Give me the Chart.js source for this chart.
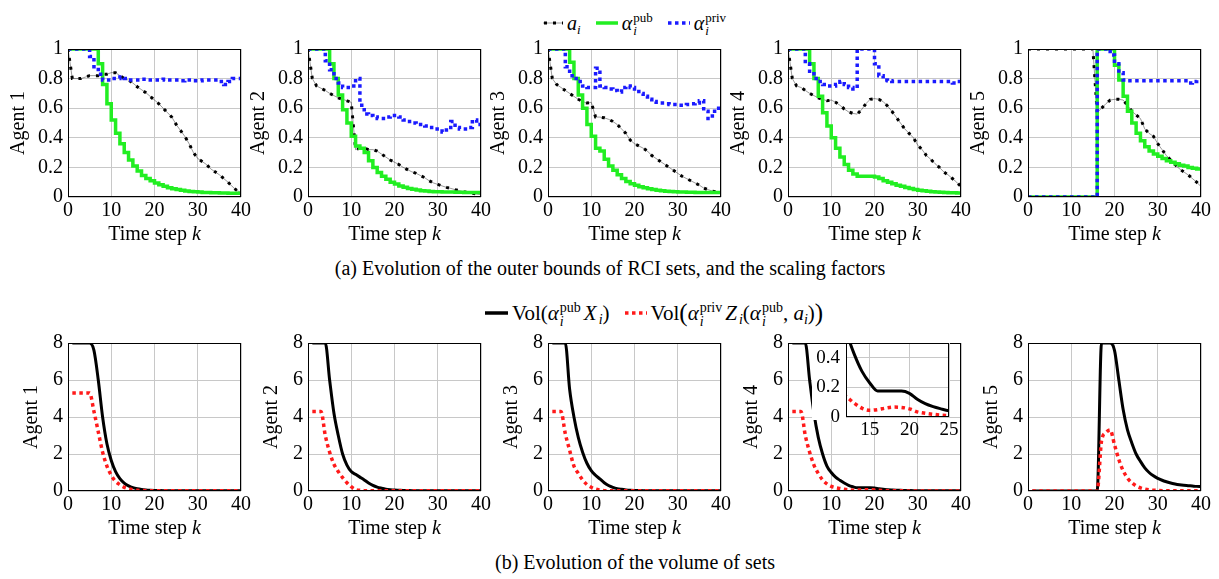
<!DOCTYPE html>
<html>
<head>
<meta charset="utf-8">
<script src="https://cdn.jsdelivr.net/npm/chart.js@4.4.0/dist/chart.umd.min.js"></script>
<style>
  body { margin:0; background:#fff; width:1219px; height:579px; position:relative; overflow:hidden;
         font-family:"Liberation Serif", "Times New Roman", serif; color:#000; }
  canvas { position:absolute; }
  .legend { position:absolute; font-size:20px; white-space:nowrap; display:flex; align-items:center; height:30px; }
  .lab { margin-left:4px; margin-right:15px; }
  .ss { display:inline-flex; flex-direction:column; font-size:13px; line-height:13px; vertical-align:8px; margin-left:1px; margin-bottom:-13px; }
  sub { font-size:13px; vertical-align:-4px; line-height:0; }
  .wide { font-size:21px; }
  .wide .ss { font-size:14px; line-height:14px; margin-bottom:-14px; }
  .wide sub { font-size:14px; }
  .m { margin:0 2px 0 3px; }
  .big { font-size:25px; line-height:0; vertical-align:-1px; }
  .caption { position:absolute; width:1000px; text-align:center; font-size:20px; line-height:22px; }
</style>
</head>
<body>

<div class="legend" style="left:543px; top:8px;">
  <svg width="20" height="8"><line x1="0" y1="4" x2="20" y2="4" stroke="rgba(0,0,0,0.4)" stroke-width="1"/><line x1="1" y1="4" x2="20" y2="4" stroke="#000" stroke-width="3" stroke-dasharray="3 6"/></svg>
  <span class="lab"><i>a</i><sub><i>i</i></sub></span>
  <svg width="22" height="8"><line x1="0" y1="4" x2="22" y2="4" stroke="#22ee22" stroke-width="3.5"/></svg>
  <span class="lab"><i>α</i><span class="ss"><span>pub</span><i>i</i></span></span>
  <svg width="22" height="8"><line x1="0" y1="4" x2="22" y2="4" stroke="#1a1aff" stroke-width="3.5" stroke-dasharray="3.5 3.5"/></svg>
  <span class="lab"><i>α</i><span class="ss"><span>priv</span><i>i</i></span></span>
</div>

<div class="caption" style="left:110px; top:257px;">(a) Evolution of the outer bounds of RCI sets, and the scaling factors</div>

<div class="legend wide" style="left:485px; top:298px;">
  <svg width="23" height="8"><line x1="0" y1="4" x2="23" y2="4" stroke="#000" stroke-width="3.5"/></svg>
  <span class="lab">Vol(<i>α</i><span class="ss"><span>pub</span><i>i</i></span><i class="m">X</i><sub><i>i</i></sub>)</span>
  <svg width="22" height="8"><line x1="0" y1="4" x2="22" y2="4" stroke="#ff1a1a" stroke-width="3.5" stroke-dasharray="3.5 3.5"/></svg>
  <span class="lab">Vol<span class="big">(</span><i>α</i><span class="ss"><span>priv</span><i>i</i></span><i class="m">Z</i><sub><i>i</i></sub>(<i>α</i><span class="ss"><span>pub</span><i>i</i></span>, <i>a</i><sub><i>i</i></sub>)<span class="big">)</span></span>
</div>

<div class="caption" style="left:135px; top:551px;">(b) Evolution of the volume of sets</div>

<script>
const steps = [0,1,2,3,4,5,6,7,8,9,10,11,12,13,14,15,16,17,18,19,20,21,22,23,24,25,26,27,28,29,30,31,32,33,34,35,36,37,38,39,40];
const xTicks = [0,10,20,30,40];
const yTicksTop = [0,0.2,0.4,0.6,0.8,1];
const yTicksBottom = [0,2,4,6,8];
const insetXTicks = [15,20,25];
const insetYTicks = [0,0.2,0.4];
const agentNames = ['Agent 1','Agent 2','Agent 3','Agent 4','Agent 5'];

// a_i (outer bound factor)
const a1 = [1,0.8,0.8,0.8,0.81,0.82,0.82,0.82,0.83,0.83,0.84,0.84,0.82,0.8,0.79,0.77,0.745,0.725,0.705,0.68,0.655,0.63,0.6,0.57,0.54,0.49,0.45,0.41,0.36,0.3,0.26,0.24,0.22,0.19,0.17,0.15,0.125,0.1,0.07,0.045,0.03];
const a2 = [1,0.8,0.75,0.735,0.72,0.7,0.685,0.67,0.66,0.65,0.64,0.32,0.33,0.33,0.32,0.32,0.31,0.29,0.27,0.25,0.235,0.22,0.2,0.185,0.17,0.16,0.145,0.13,0.11,0.095,0.085,0.075,0.065,0.058,0.05,0.043,0.035,0.03,0.025,0.02,0.015];
const a3 = [1,0.8,0.76,0.74,0.72,0.7,0.68,0.66,0.645,0.635,0.64,0.54,0.54,0.535,0.525,0.51,0.49,0.46,0.43,0.385,0.36,0.345,0.33,0.31,0.28,0.26,0.24,0.22,0.2,0.18,0.16,0.14,0.125,0.11,0.095,0.08,0.06,0.05,0.04,0.035,0.03];
const a4 = [1,0.8,0.75,0.74,0.72,0.7,0.685,0.67,0.66,0.65,0.655,0.64,0.62,0.595,0.575,0.565,0.56,0.59,0.63,0.66,0.665,0.66,0.645,0.615,0.58,0.54,0.5,0.46,0.43,0.4,0.35,0.32,0.28,0.255,0.225,0.2,0.17,0.15,0.125,0.1,0.07];
const a5 = [1,1,1,1,1,1,1,1,1,1,1,1,1,1,1,1,0.57,0.6,0.63,0.655,0.66,0.66,0.655,0.62,0.58,0.555,0.53,0.46,0.43,0.41,0.36,0.32,0.28,0.25,0.22,0.19,0.17,0.15,0.125,0.1,0.07];

// alpha pub
const pub1 = [1,1,1,1,1,1,1,0.9,0.76,0.63,0.52,0.43,0.36,0.3,0.25,0.21,0.175,0.145,0.125,0.11,0.095,0.083,0.072,0.063,0.056,0.05,0.045,0.041,0.038,0.035,0.033,0.031,0.03,0.029,0.028,0.027,0.027,0.026,0.026,0.025,0.025];
const pub2 = [1,1,1,1,1,0.9,0.8,0.69,0.59,0.5,0.41,0.345,0.33,0.3,0.245,0.2,0.165,0.14,0.12,0.1,0.087,0.075,0.066,0.058,0.052,0.047,0.043,0.04,0.038,0.036,0.035,0.034,0.033,0.033,0.032,0.032,0.031,0.031,0.03,0.03,0.03];
const pub3 = [1,1,1,1,1,0.91,0.8,0.69,0.6,0.49,0.41,0.33,0.31,0.255,0.21,0.18,0.15,0.125,0.105,0.09,0.08,0.07,0.062,0.055,0.05,0.046,0.042,0.039,0.037,0.035,0.034,0.033,0.032,0.032,0.031,0.031,0.03,0.03,0.03,0.03,0.03];
const pub4 = [1,1,1,1,1,0.9,0.8,0.68,0.57,0.48,0.4,0.33,0.27,0.22,0.18,0.155,0.14,0.14,0.14,0.14,0.135,0.125,0.11,0.1,0.09,0.08,0.072,0.064,0.057,0.051,0.046,0.042,0.039,0.036,0.034,0.032,0.03,0.029,0.028,0.027,0.026];
const pub5 = [0,0,0,0,0,0,0,0,0,0,0,0,0,0,0,0,1,1,1,1,0.89,0.79,0.68,0.58,0.5,0.43,0.38,0.34,0.31,0.29,0.275,0.26,0.245,0.235,0.225,0.215,0.21,0.2,0.195,0.19,0.188];

// alpha priv
const priv1 = [1,1,1,1,1,0.95,0.88,0.83,0.79,0.79,0.8,0.8,0.81,0.8,0.79,0.79,0.79,0.795,0.79,0.79,0.79,0.79,0.795,0.79,0.79,0.79,0.785,0.79,0.79,0.785,0.785,0.79,0.79,0.79,0.79,0.78,0.76,0.78,0.8,0.8,0.8];
const priv2 = [1,1,1,1,0.92,0.86,0.8,0.77,0.74,0.74,0.75,0.8,0.62,0.56,0.55,0.54,0.53,0.53,0.54,0.55,0.55,0.54,0.52,0.51,0.5,0.49,0.49,0.48,0.47,0.46,0.46,0.44,0.47,0.51,0.47,0.46,0.46,0.47,0.52,0.49,0.49];
const priv3 = [1,1,1,1,0.88,0.82,0.8,0.78,0.75,0.74,0.74,0.87,0.75,0.74,0.73,0.72,0.71,0.74,0.75,0.74,0.73,0.7,0.68,0.66,0.645,0.64,0.635,0.63,0.625,0.625,0.62,0.62,0.625,0.63,0.635,0.65,0.58,0.53,0.58,0.6,0.61];
const priv4 = [1,1,1,1,0.9,0.85,0.8,0.78,0.76,0.75,0.75,0.76,0.78,0.76,0.74,0.73,1,1,1,1,0.9,0.82,0.79,0.785,0.78,0.78,0.78,0.78,0.78,0.78,0.78,0.78,0.78,0.78,0.78,0.78,0.78,0.78,0.77,0.78,0.78];
const priv5 = [0,0,0,0,0,0,0,0,0,0,0,0,0,0,0,0,1,1,1,0.96,0.9,0.84,0.79,0.785,0.785,0.785,0.785,0.785,0.785,0.785,0.785,0.785,0.785,0.785,0.785,0.785,0.785,0.77,0.78,0.79,0.79];

// Vol(alpha_pub X_i)
const vp1 = [null,8,8,8,8,8,7.6,6.0,4.0,2.55,1.65,1.05,0.67,0.43,0.28,0.18,0.12,0.08,0.055,0.04,0.03,0.025,0.02,0.018,0.015,0.013,0.012,0.011,0.01,0.01,0.01,0.01,0.01,0.01,0.01,0.01,0.01,0.01,0.01,0.01,0.01];
const vp2 = [null,8,8,8,8,6.0,4.2,3.0,2.0,1.4,1.05,0.9,0.75,0.6,0.43,0.3,0.21,0.15,0.1,0.07,0.05,0.04,0.03,0.025,0.02,0.018,0.015,0.013,0.012,0.011,0.01,0.01,0.01,0.01,0.01,0.01,0.01,0.01,0.01,0.01,0.01];
const vp3 = [null,8,8,8,8,5.5,4.0,2.9,2.1,1.5,1.1,0.85,0.65,0.45,0.3,0.2,0.13,0.09,0.06,0.04,0.03,0.025,0.02,0.018,0.015,0.013,0.012,0.011,0.01,0.01,0.01,0.01,0.01,0.01,0.01,0.01,0.01,0.01,0.01,0.01,0.01];
const vp4 = [null,8,8,8,8,6.0,4.2,2.9,2.0,1.35,1.0,0.75,0.58,0.43,0.31,0.23,0.175,0.175,0.175,0.175,0.16,0.12,0.09,0.07,0.055,0.042,0.035,0.03,0.025,0.02,0.018,0.016,0.015,0.014,0.013,0.012,0.011,0.01,0.01,0.01,0.01];
const vp5 = [null,0,0,0,0,0,0,0,0,0,0,0,0,0,0,0,0,8,8,8,7.6,6.0,4.4,3.3,2.6,2.0,1.6,1.25,1.0,0.82,0.68,0.58,0.5,0.43,0.38,0.34,0.31,0.29,0.27,0.25,0.24];

// Vol(alpha_priv Z_i(alpha_pub, a_i))
const vv1 = [null,5.3,5.3,5.3,5.3,5.3,4.3,3.2,2.1,1.35,0.85,0.52,0.34,0.2,0.12,0.07,0.04,0.025,0.015,0.01,0.01,0.01,0.01,0.01,0.01,0.01,0.01,0.01,0.01,0.01,0.01,0.01,0.01,0.01,0.01,0.01,0.01,0.01,0.01,0.01,0.01];
const vv2 = [null,4.3,4.3,4.3,3.0,2.1,1.45,1.05,0.72,0.45,0.23,0.08,0.04,0.02,0.01,0.01,0.01,0.01,0.01,0.01,0.01,0.01,0.01,0.01,0.01,0.01,0.01,0.01,0.01,0.01,0.01,0.01,0.01,0.01,0.01,0.01,0.01,0.01,0.01,0.01,0.01];
const vv3 = [null,4.3,4.3,4.3,3.1,2.2,1.35,0.95,0.6,0.35,0.2,0.1,0.05,0.02,0.01,0.01,0.01,0.01,0.01,0.01,0.01,0.01,0.01,0.01,0.01,0.01,0.01,0.01,0.01,0.01,0.01,0.01,0.01,0.01,0.01,0.01,0.01,0.01,0.01,0.01,0.01];
const vv4 = [null,4.3,4.3,4.3,3.0,2.1,1.4,0.95,0.6,0.38,0.25,0.18,0.14,0.095,0.06,0.045,0.05,0.06,0.067,0.065,0.055,0.035,0.025,0.018,0.013,0.01,0.008,0.007,0.006,0.005,0.005,0.005,0.005,0.005,0.005,0.005,0.005,0.005,0.005,0.005,0.005];
const vv5 = [null,0,0,0,0,0,0,0,0,0,0,0,0,0,0,0,0,2.7,3.15,3.3,2.5,1.7,1.1,0.7,0.45,0.28,0.17,0.1,0.06,0.04,0.03,0.02,0.015,0.012,0.01,0.01,0.01,0.01,0.01,0.01,0.01];

const aSeries = [a1, a2, a3, a4, a5];
const pubSeries = [pub1, pub2, pub3, pub4, pub5];
const privSeries = [priv1, priv2, priv3, priv4, priv5];
const volPubSeries = [vp1, vp2, vp3, vp4, vp5];
const volPrivSeries = [vv1, vv2, vv3, vv4, vv5];

const SERIF = '"Liberation Serif", "Times New Roman", serif';
Chart.defaults.color = '#000';
Chart.defaults.font.family = SERIF;
Chart.defaults.font.size = 20;

const GRID = '#c8c8c8';

function pts(arr) {
  return arr.map((v, i) => ({ x: steps[i], y: v }));
}

function zeroPad(s) {
  s.paddingTop = 0; s.paddingBottom = 0; s.paddingLeft = 0; s.paddingRight = 0;
}

// black box round the plot area
const framePlugin = {
  id: 'frame',
  afterDatasetsDraw(chart) {
    const a = chart.chartArea, c = chart.ctx;
    c.save();
    c.strokeStyle = '#000';
    c.lineWidth = 1;
    c.strokeRect(a.left + 0.5, a.top + 0.5, a.right - a.left - 1, a.bottom - a.top - 1);
    c.restore();
  }
};

// "Time step k" with italic k
const xTitlePlugin = {
  id: 'xTitle',
  afterDraw(chart, args, opts) {
    if (!opts.show) return;
    const a = chart.chartArea, c = chart.ctx;
    const y = a.bottom + opts.offset;
    c.save();
    c.fillStyle = '#000';
    c.textBaseline = 'middle';
    c.textAlign = 'left';
    c.font = '20px ' + SERIF;
    const t1 = 'Time step ';
    const w1 = c.measureText(t1).width;
    c.font = 'italic 20px ' + SERIF;
    const w2 = c.measureText('k').width;
    const x = (a.left + a.right) / 2 - (w1 + w2) / 2;
    c.font = '20px ' + SERIF;
    c.fillText(t1, x, y);
    c.font = 'italic 20px ' + SERIF;
    c.fillText('k', x + w1, y);
    c.restore();
  }
};

// white background for the inset
const insetBgPlugin = {
  id: 'insetBg',
  beforeDraw(chart) {
    const a = chart.chartArea, c = chart.ctx;
    c.save();
    c.fillStyle = '#fff';
    c.fillRect(a.left, a.top, a.right - a.left, a.bottom - a.top);
    c.fillRect(0, a.top + 1, a.left, a.bottom - a.top + 2);
    c.restore();
  }
};

function makeChart(o) {
  const cv = document.createElement('canvas');
  cv.width = o.w; cv.height = o.h;
  cv.style.left = o.left + 'px';
  cv.style.top = o.top + 'px';
  document.body.appendChild(cv);
  const tickFont = { family: SERIF, size: o.fs };
  return new Chart(cv, {
    type: 'line',
    data: { datasets: o.datasets },
    options: {
      responsive: false,
      animation: false,
      devicePixelRatio: 1,
      layout: { padding: o.pad },
      elements: { point: { radius: 0 } },
      plugins: {
        legend: { display: false },
        tooltip: { enabled: false },
        xTitle: { show: o.xTitle, offset: 38 }
      },
      scales: {
        x: {
          type: 'linear', min: o.xMin, max: o.xMax,
          afterBuildTicks: s => { s.ticks = o.xTicks.map(v => ({ value: v })); },
          afterFit: s => { s.height = o.xh; zeroPad(s); },
          grid: { color: GRID, drawTicks: false },
          border: { display: false },
          ticks: { font: tickFont, padding: o.xPad, maxRotation: 0, autoSkip: false, callback: v => '' + v }
        },
        y: {
          min: o.yMin, max: o.yMax,
          afterBuildTicks: s => { s.ticks = o.yTicks.map(v => ({ value: v })); },
          afterFit: s => { s.width = o.yw; zeroPad(s); },
          grid: { color: GRID, drawTicks: false },
          border: { display: false },
          ticks: { font: tickFont, padding: o.yPad, autoSkip: false, callback: v => '' + v },
          title: { display: !!o.yTitle, text: o.yTitle, font: { family: SERIF, size: 20 }, padding: { top: o.titlePad, bottom: 0 } }
        }
      }
    },
    plugins: [framePlugin, xTitlePlugin].concat(o.extra || [])
  });
}

const plotLefts = [68, 308, 548, 788, 1028];
const PW = 173, YW = 61, PADR = 10, PADT = 12, XH = 50, PH = 148;

for (let i = 0; i < 5; i++) {
  // top row: a_i, alpha pub, alpha priv
  makeChart({
    left: plotLefts[i] - YW, top: 49 - PADT, w: YW + PW + PADR, h: PADT + PH + XH,
    pad: { top: PADT, right: PADR, left: 0, bottom: 0 },
    xMin: 0, xMax: 40, xTicks: xTicks, yMin: 0, yMax: 1, yTicks: yTicksTop,
    xh: XH, yw: YW, fs: 20, xPad: 2, yPad: 5, yTitle: agentNames[i], titlePad: 0, xTitle: true,
    datasets: [
      { data: pts(privSeries[i]), borderColor: '#1a1aff', borderWidth: 3.5, borderDash: [3.5, 3.5], stepped: 'before', clip: 0 },
      { data: pts(pubSeries[i]), borderColor: '#22ee22', borderWidth: 3.5, stepped: 'before', clip: 0 },
      { data: pts(aSeries[i]), borderColor: '#000', borderWidth: 3, borderDash: [3, 6], clip: 0 },
      { data: pts(aSeries[i]), borderColor: 'rgba(0,0,0,0.4)', borderWidth: 1, clip: 0 }
    ]
  });
  // bottom row: volumes
  makeChart({
    left: plotLefts[i] - YW, top: 343 - PADT, w: YW + PW + PADR, h: PADT + PH + XH,
    pad: { top: PADT, right: PADR, left: 0, bottom: 0 },
    xMin: 0, xMax: 40, xTicks: xTicks, yMin: 0, yMax: 8, yTicks: yTicksBottom,
    xh: XH, yw: YW, fs: 20, xPad: 2, yPad: 5, yTitle: agentNames[i], titlePad: 13, xTitle: true,
    datasets: [
      { data: pts(volPrivSeries[i]), borderColor: '#ff1a1a', borderWidth: 3.5, borderDash: [3.5, 3.5], cubicInterpolationMode: 'monotone', clip: 0 },
      { data: pts(volPubSeries[i]), borderColor: '#000', borderWidth: 3, cubicInterpolationMode: 'monotone', clip: 0 }
    ]
  });
}

// inset zoom on agent 4 volumes
makeChart({
  left: 812, top: 336, w: 149, h: 105,
  pad: { top: 7, right: 12, left: 0, bottom: 0 },
  xMin: 12, xMax: 25, xTicks: insetXTicks, yMin: 0, yMax: 0.5, yTicks: insetYTicks,
  xh: 24, yw: 34, fs: 19, xPad: 2, yPad: 6, yTitle: '', titlePad: 0, xTitle: false,
  extra: [insetBgPlugin],
  datasets: [
    { data: pts(vv4), borderColor: '#ff1a1a', borderWidth: 3.5, borderDash: [3.5, 3.5], cubicInterpolationMode: 'monotone', clip: 0 },
    { data: pts(vp4), borderColor: '#000', borderWidth: 3, cubicInterpolationMode: 'monotone', clip: 0 }
  ]
});
</script>
</body>
</html>
